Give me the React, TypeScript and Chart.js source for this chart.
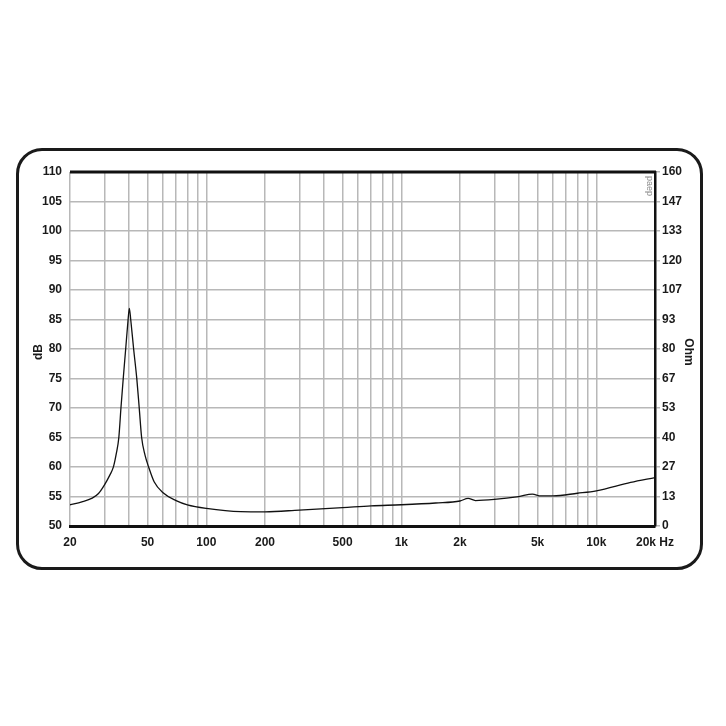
import React, { useEffect, useRef } from "react";
import { Chart, registerables } from "chart.js";

Chart.register(...registerables);

// Impedance curve (frequency in Hz, impedance in Ohm)
const freqHz = [20, 23, 26, 28, 30, 32, 33.4, 34.6, 35.6, 36.5, 37.5, 38.6, 39.6, 40.3, 41, 42.4, 44, 45.3, 46.6, 48.5, 50.6, 54, 60, 70, 80, 100, 150, 200, 300, 500, 700, 1000, 1500, 2000, 2200, 2400, 3000, 4000, 4700, 5200, 6000, 8000, 10000, 15000, 20000];
const impedanceOhm = [9.6, 10.9, 12.6, 14.7, 18.5, 23, 26.7, 33, 40, 53.3, 66.7, 80, 92, 98.4, 93, 80, 66.7, 53.3, 40, 32, 26.7, 20, 15, 11.5, 9.6, 8, 6.5, 6.4, 7.2, 8.3, 9.1, 9.6, 10.4, 11.3, 12.5, 11.5, 12, 13.3, 14.4, 13.6, 13.6, 14.8, 15.9, 19.7, 21.9];

// X grid lines and labels
const xGridValues = [20, 30, 40, 50, 60, 70, 80, 90, 100, 200, 300, 400, 500, 600, 700, 800, 900, 1000, 2000, 3000, 4000, 5000, 6000, 7000, 8000, 9000, 10000, 20000];
const xLabelValues = [20, 50, 100, 200, 500, 1000, 2000, 5000, 10000, 20000];
const xLabelTexts = ["20", "50", "100", "200", "500", "1k", "2k", "5k", "10k", "20k Hz"];

// Left axis (dB) and right axis (Ohm)
const dbMin = 50;
const dbMax = 110;
const dbStep = 5;
const ohmTickLabels = ["0", "13", "27", "40", "53", "67", "80", "93", "107", "120", "133", "147", "160"];
const ohmMax = 160;

const FONT = '"Liberation Sans", Arial, sans-serif';
const TEXT = "#1a1a1a";
const GRID = "#b8b8b8";

export default function App() {
  const ref = useRef<HTMLCanvasElement | null>(null);

  useEffect(() => {
    if (!ref.current) return;
    const extras = {
      id: "extras",
      afterDraw(chart: any) {
        const ctx = chart.ctx;
        const a = chart.chartArea;
        ctx.save();
        // top thick border
        ctx.strokeStyle = "#111";
        ctx.lineWidth = 3;
        ctx.beginPath();
        ctx.moveTo(a.left, a.top);
        ctx.lineTo(a.right + 1, a.top);
        ctx.stroke();
        // axis titles
        ctx.fillStyle = TEXT;
        ctx.font = `bold 12px ${FONT}`;
        ctx.textAlign = "center";
        ctx.textBaseline = "middle";
        ctx.save();
        ctx.translate(39, 352);
        ctx.rotate(-Math.PI / 2);
        ctx.fillText("dB", 0, 0);
        ctx.restore();
        ctx.save();
        ctx.translate(688, 352);
        ctx.rotate(Math.PI / 2);
        ctx.fillText("Ohm", 0, 0);
        ctx.restore();
        // small watermark
        ctx.save();
        ctx.fillStyle = "#8a8a8a";
        ctx.font = `9px ${FONT}`;
        ctx.translate(649, 186);
        ctx.rotate(Math.PI / 2);
        ctx.fillText("paep", 0, 0);
        ctx.restore();
        ctx.restore();
      },
    };

    const chart = new Chart(ref.current, {
      type: "line",
      data: {
        datasets: [
          {
            data: freqHz.map((f, i) => ({ x: f, y: impedanceOhm[i] })),
            yAxisID: "y1",
            borderColor: "#111",
            borderWidth: 1.3,
            pointRadius: 0,
            cubicInterpolationMode: "monotone",
            fill: false,
          },
        ],
      },
      options: {
        responsive: false,
        animation: false,
        devicePixelRatio: 1,
        layout: { padding: { top: 172, left: 0, right: 31, bottom: 170 } },
        plugins: { legend: { display: false }, tooltip: { enabled: false } },
        scales: {
          x: {
            type: "logarithmic",
            min: 20,
            max: 20000,
            afterBuildTicks: (s: any) => {
              s.ticks = xGridValues.map((v) => ({ value: v }));
            },
            afterFit: (s: any) => {
              s.height = 30;
            },
            ticks: {
              autoSkip: false,
              maxRotation: 0,
              minRotation: 0,
              padding: 9,
              color: TEXT,
              font: { family: FONT, size: 12, weight: "bold" },
              callback: (v: any) => {
                const i = xLabelValues.indexOf(Number(v));
                return i >= 0 ? xLabelTexts[i] : "";
              },
            },
            grid: { color: GRID, lineWidth: 1.5, drawTicks: false },
            border: { display: true, color: "#111", width: 3 },
          },
          y: {
            position: "left",
            min: dbMin,
            max: dbMax,
            afterFit: (s: any) => {
              s.width = 70;
            },
            ticks: {
              stepSize: dbStep,
              padding: 8,
              color: TEXT,
              font: { family: FONT, size: 12, weight: "bold" },
            },
            grid: { color: GRID, lineWidth: 1.5, drawTicks: false },
            border: { display: false },
          },
          y1: {
            position: "right",
            min: 0,
            max: ohmMax,
            afterBuildTicks: (s: any) => {
              s.ticks = ohmTickLabels.map((_, i) => ({ value: (i * ohmMax) / (ohmTickLabels.length - 1) }));
            },
            afterFit: (s: any) => {
              s.width = 40;
            },
            ticks: {
              padding: 2,
              color: TEXT,
              font: { family: FONT, size: 12, weight: "bold" },
              callback: (_v: any, i: number) => ohmTickLabels[i],
            },
            grid: { drawOnChartArea: false, drawTicks: true, tickLength: 5, color: GRID, lineWidth: 1.5 },
            border: { display: true, color: "#111", width: 2.5 },
          },
        },
      },
      plugins: [extras],
    } as any);
    return () => chart.destroy();
  }, []);

  return (
    <div style={{ position: "absolute", left: 0, top: 0, width: 726, height: 726, background: "#fff" }}>
      <div
        style={{
          position: "absolute",
          left: 16,
          top: 148,
          width: 687,
          height: 422,
          border: "3px solid #1a1a1a",
          borderRadius: 26,
          boxSizing: "border-box",
        }}
      />
      <canvas ref={ref} width={726} height={726} style={{ position: "absolute", left: 0, top: 0, width: 726, height: 726 }} />
    </div>
  );
}
